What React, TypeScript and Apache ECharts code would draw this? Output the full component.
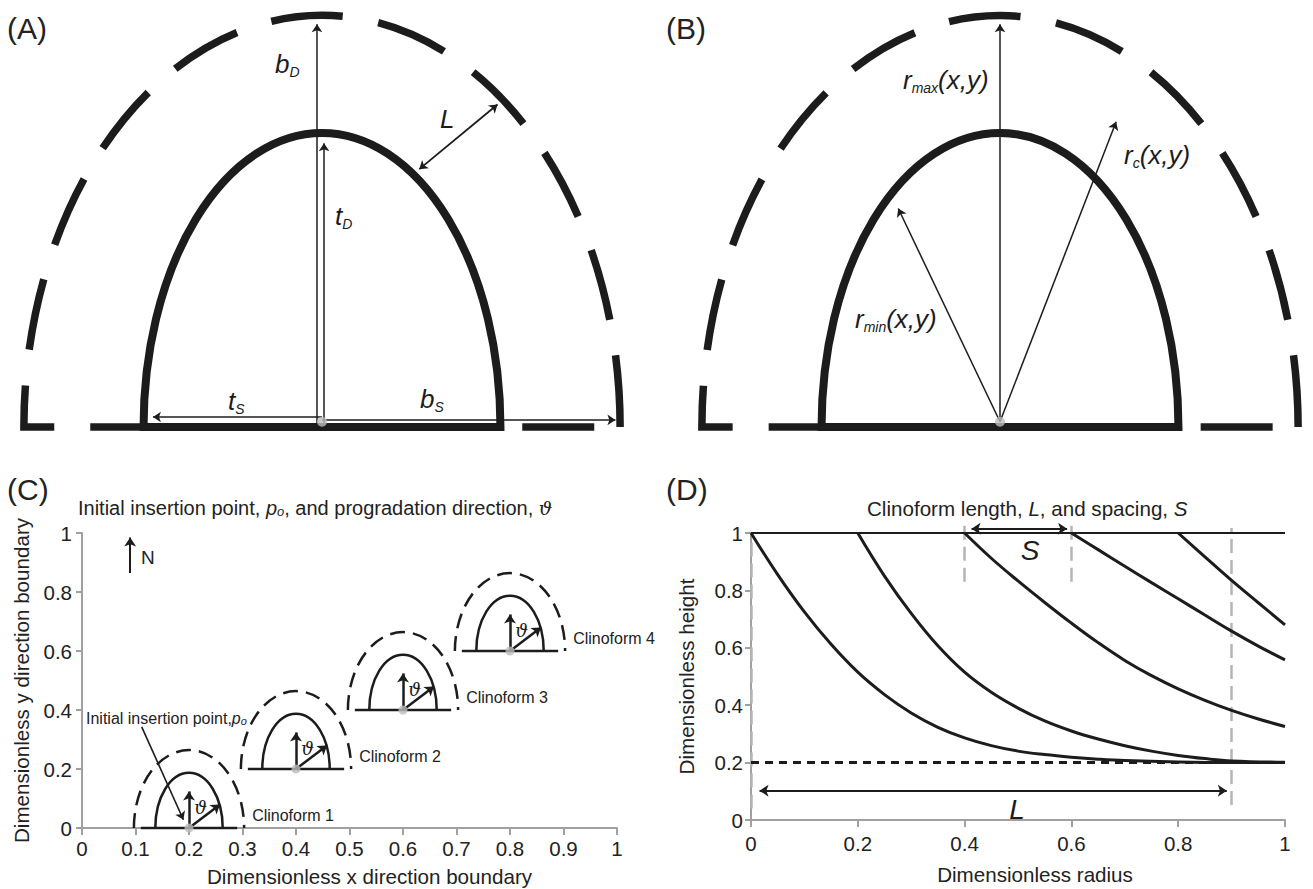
import React, { useEffect, useRef } from "react";
import * as echarts from "echarts";

const FONT = "'Liberation Sans', Arial, Helvetica, sans-serif";
const MATH_FONT = "'DejaVu Serif', serif";
const INK = "#1c1c1c";
const TEXT = "#222222";
const AXIS_GRAY = "#a0a0a0";
const GUIDE_GRAY = "#b5b5b5";
const DOT_GRAY = "#bdbdbd";

// ---------- Panels A and B: clinoform schematic (units of t_D) ----------
const schematicOrigin = [[0, 0]];
const tS = 0.607; // inner half width
const tD = 1.0; // inner height
const bS = 1.014; // outer half width
const bD = 1.4; // outer height
const insertionDotY = 0.018;

// annotation arrows [x1, y1, x2, y2]
const arrowsA = [
  [-0.017, 0, -0.017, 1.37], // b_D
  [0.007, 0, 0.007, 0.965], // t_D
  [0, 0.034, -0.575, 0.034], // t_S
  [0, 0.024, 0.998, 0.024], // b_S
];
const arrowsADouble = [[0.331, 0.877, 0.597, 1.097]]; // L
const arrowsB = [
  [0, 0.018, 0, 1.37], // r_max
  [0, 0.018, -0.346, 0.743], // r_min
  [0, 0.018, 0.395, 1.038], // r_c
];

// ---------- Panel C ----------
const clinoX = [0.2, 0.4, 0.6, 0.8];
const clinoY = [0, 0.2, 0.4, 0.6];
const clinoNames = ["Clinoform 1", "Clinoform 2", "Clinoform 3", "Clinoform 4"];
const cInnerHalf = 0.063;
const cInnerH = 0.187;
const cOuterHalf = 0.103;
const cOuterH = 0.264;
const cBaseHalf = 0.09;
const cNorthLen = 0.124;
const cThetaDx = 0.058;
const cThetaDy = 0.08;
const cLabelDx = 0.118;
const cLabelDy = 0.042;
const cThetaLabelDx = 0.022;
const cThetaLabelDy = 0.068;
const northArrow = [0.09, 0.864, 0.09, 0.985];
const insertionPointer = [0.1116, 0.343, 0.1895, 0.028];

// ---------- Panel D ----------
const curve1X = [0, 0.05, 0.1, 0.15, 0.2, 0.25, 0.3, 0.35, 0.4, 0.45, 0.5, 0.55, 0.6, 0.65, 0.7, 0.8, 0.9, 1];
const curve1Y = [1, 0.855, 0.725, 0.612, 0.515, 0.437, 0.373, 0.323, 0.286, 0.259, 0.24, 0.228, 0.219, 0.212, 0.207, 0.202, 0.2, 0.2];
const curve2X = [0.2, 0.25, 0.3, 0.35, 0.4, 0.45, 0.5, 0.55, 0.6, 0.65, 0.7, 0.75, 0.8, 0.85, 0.9, 1];
const curve2Y = [1, 0.85, 0.72, 0.607, 0.515, 0.445, 0.39, 0.345, 0.31, 0.282, 0.259, 0.24, 0.225, 0.214, 0.206, 0.201];
const curve3X = [0.4, 0.45, 0.5, 0.55, 0.6, 0.65, 0.7, 0.75, 0.8, 0.85, 0.9, 0.95, 1];
const curve3Y = [1, 0.912, 0.833, 0.758, 0.686, 0.618, 0.556, 0.503, 0.457, 0.417, 0.382, 0.352, 0.326];
const curve4X = [0.6, 0.65, 0.7, 0.75, 0.8, 0.85, 0.9, 0.95, 1];
const curve4Y = [1, 0.942, 0.884, 0.827, 0.771, 0.714, 0.658, 0.606, 0.558];
const curve5X = [0.8, 0.85, 0.9, 0.95, 1];
const curve5Y = [1, 0.917, 0.835, 0.757, 0.68];
const plateauY = 1;
const baseY = 0.2;
const guideX = [0, 0.4, 0.6, 0.9];
const guideBottom = [0.04, 0.83, 0.83, 0.052];
const guideTop = [1, 1.05, 1.05, 1.017];
const spacingArrow = [0.413, 1.015, 0.592, 1.015];
const lengthArrow = [0.016, 0.102, 0.891, 0.102];

const zip = (xs: number[], ys: number[]) => xs.map((x, i) => [x, ys[i]]);

function schematicRenderer(params: any, api: any) {
  const x = api.value(0);
  const y = api.value(1);
  const c = api.coord([x, y]);
  const iL = api.coord([x - tS, y]);
  const iR = api.coord([x + tS, y]);
  const iT = api.coord([x, y + tD]);
  const oL = api.coord([x - bS, y]);
  const oR = api.coord([x + bS, y]);
  const oT = api.coord([x, y + bD]);
  const irx = (iR[0] - iL[0]) / 2;
  const iry = c[1] - iT[1];
  const orx = (oR[0] - oL[0]) / 2;
  const ory = c[1] - oT[1];
  return {
    type: "group",
    children: [
      {
        type: "path",
        shape: {
          pathData: `M${oR[0]} ${c[1]} A${orx} ${ory} 0 0 0 ${oL[0]} ${c[1]} L${oR[0]} ${c[1]}`,
        },
        style: { fill: "none", stroke: INK, lineWidth: 7.5, lineDash: [72, 36], lineCap: "butt" },
      },
      {
        type: "path",
        shape: {
          pathData: `M${iL[0]} ${c[1]} A${irx} ${iry} 0 0 1 ${iR[0]} ${c[1]} Z`,
        },
        style: { fill: "none", stroke: INK, lineWidth: 8, lineJoin: "miter" },
      },
    ],
  };
}

function clinoRenderer(params: any, api: any) {
  const i = params.dataIndex;
  const x = api.value(0);
  const y = api.value(1);
  const c = api.coord([x, y]);
  const iL = api.coord([x - cInnerHalf, y]);
  const iR = api.coord([x + cInnerHalf, y]);
  const iT = api.coord([x, y + cInnerH]);
  const oL = api.coord([x - cOuterHalf, y]);
  const oR = api.coord([x + cOuterHalf, y]);
  const oT = api.coord([x, y + cOuterH]);
  const bL = api.coord([x - cBaseHalf, y]);
  const bR = api.coord([x + cBaseHalf, y]);
  const lab = api.coord([x + cLabelDx, y + cLabelDy]);
  const th = api.coord([x + cThetaLabelDx, y + cThetaLabelDy]);
  const irx = (iR[0] - iL[0]) / 2;
  const iry = c[1] - iT[1];
  const orx = (oR[0] - oL[0]) / 2;
  const ory = c[1] - oT[1];
  return {
    type: "group",
    children: [
      {
        type: "path",
        shape: { pathData: `M${oL[0]} ${c[1]} A${orx} ${ory} 0 0 1 ${oR[0]} ${c[1]}` },
        style: { fill: "none", stroke: INK, lineWidth: 2.5, lineDash: [15, 8] },
      },
      {
        type: "path",
        shape: { pathData: `M${iL[0]} ${c[1]} A${irx} ${iry} 0 0 1 ${iR[0]} ${c[1]}` },
        style: { fill: "none", stroke: INK, lineWidth: 2.5 },
      },
      {
        type: "line",
        shape: { x1: bL[0], y1: c[1], x2: bR[0], y2: c[1] },
        style: { stroke: INK, lineWidth: 2.5 },
      },
      {
        type: "text",
        x: lab[0],
        y: lab[1],
        style: { text: clinoNames[i], fontSize: 16, fontFamily: FONT, fill: TEXT, align: "left", verticalAlign: "middle" },
      },
      {
        type: "text",
        x: th[0],
        y: th[1],
        style: { text: "\u03D1", fontSize: 18, fontFamily: MATH_FONT, fontStyle: "italic", fill: INK, align: "center", verticalAlign: "middle" },
      },
    ],
  };
}

function arrowSeries(idx: number, segs: number[][], width: number, size: number, both = false, color = INK) {
  return {
    type: "lines",
    coordinateSystem: "cartesian2d",
    xAxisIndex: idx,
    yAxisIndex: idx,
    symbol: both ? ["arrow", "arrow"] : ["none", "arrow"],
    symbolSize: size,
    lineStyle: { color, width, opacity: 1, curveness: 0 },
    data: segs.map((s) => ({ coords: [[s[0], s[1]], [s[2], s[3]]] })),
    silent: true,
    clip: false,
    z: 3,
  };
}

function mathLabel(x: number, y: number, main: string, sub: string, rest = "") {
  return {
    type: "text",
    x,
    y,
    silent: true,
    style: {
      text: `{m|${main}}{s|${sub}}` + (rest ? `{m|${rest}}` : ""),
      rich: {
        m: { fontSize: 26, fontStyle: "italic", fontFamily: FONT, fill: INK, lineHeight: 30 },
        s: { fontSize: 14, fontStyle: "italic", fontFamily: FONT, fill: INK, lineHeight: 14, verticalAlign: "bottom" },
      },
      align: "left",
      verticalAlign: "middle",
    },
  };
}

function plainText(x: number, y: number, text: string, size: number, extra: any = {}) {
  return {
    type: "text",
    x,
    y,
    silent: true,
    style: { text, fontSize: size, fontFamily: FONT, fill: TEXT, align: "left", verticalAlign: "middle", ...extra },
  };
}

function valueAxis(grid: number, extra: any) {
  return {
    gridIndex: grid,
    type: "value",
    min: 0,
    max: 1,
    axisLine: { show: true, onZero: false, lineStyle: { color: AXIS_GRAY, width: 2 } },
    axisTick: { show: true, inside: false, length: 6, lineStyle: { color: AXIS_GRAY, width: 2 } },
    axisLabel: { show: true, fontSize: 20.5, color: TEXT, fontFamily: FONT, margin: 10 },
    splitLine: { show: false },
    nameLocation: "middle",
    nameMoveOverlap: false,
    nameTextStyle: { fontSize: 20.6, color: TEXT, fontFamily: FONT },
    ...extra,
  };
}

function buildOption() {
  const hiddenX = (g: number) => ({ gridIndex: g, type: "value", min: -1.05, max: 1.05, show: false });
  const hiddenY = (g: number) => ({ gridIndex: g, type: "value", min: 0, max: 1.44, show: false });
  const lineSeries = (data: number[][], extra: any = {}) => ({
    type: "line",
    xAxisIndex: 3,
    yAxisIndex: 3,
    data,
    showSymbol: false,
    symbol: "none",
    smooth: 0.4,
    clip: false,
    silent: true,
    lineStyle: { color: INK, width: 3 },
    z: 2,
    ...extra,
  });

  return {
    animation: false,
    backgroundColor: "#ffffff",
    title: [
      {
        text: "Initial insertion point, {i|p}{s|o}, and progradation direction, {t|\u03D1}",
        left: 78,
        top: 498,
        padding: 0,
        textStyle: {
          fontSize: 20,
          fontWeight: "normal",
          color: TEXT,
          fontFamily: FONT,
          rich: {
            i: { fontSize: 20, fontStyle: "italic", fontFamily: FONT, color: TEXT },
            s: { fontSize: 13, fontStyle: "italic", fontFamily: FONT, color: TEXT, verticalAlign: "bottom" },
            t: { fontSize: 19, fontStyle: "italic", fontFamily: MATH_FONT, color: TEXT },
          },
        },
      },
      {
        text: "Clinoform length, {i|L}, and spacing, {i|S}",
        left: 867,
        top: 498,
        padding: 0,
        textStyle: {
          fontSize: 20.6,
          fontWeight: "normal",
          color: TEXT,
          fontFamily: FONT,
          rich: { i: { fontSize: 20.6, fontStyle: "italic", fontFamily: FONT, color: TEXT } },
        },
      },
    ],
    grid: [
      { left: 13.3, top: 3.6, width: 617.4, height: 423.4, outerBoundsMode: "none", containLabel: false },
      { left: 691.3, top: 3.6, width: 617.4, height: 423.4, outerBoundsMode: "none", containLabel: false },
      { left: 82, top: 533, width: 535, height: 295, outerBoundsMode: "none", containLabel: false },
      { left: 751, top: 533, width: 534, height: 287, outerBoundsMode: "none", containLabel: false },
    ],
    xAxis: [
      hiddenX(0),
      hiddenX(1),
      valueAxis(2, {
        interval: 0.1,
        axisTick: { show: true, length: 7, lineStyle: { color: AXIS_GRAY, width: 2 } },
        axisLabel: { show: true, fontSize: 20.5, color: TEXT, fontFamily: FONT, margin: 10 },
        name: "Dimensionless x direction boundary",
        nameGap: 38,
        nameTextStyle: { fontSize: 20.6, color: TEXT, fontFamily: FONT, padding: [0, 0, 0, 40] },
      }),
      valueAxis(3, {
        interval: 0.2,
        axisTick: { show: true, length: 7, lineStyle: { color: AXIS_GRAY, width: 2 } },
        axisLabel: { show: true, fontSize: 20.5, color: TEXT, fontFamily: FONT, margin: 13 },
        name: "Dimensionless radius",
        nameGap: 44,
        nameTextStyle: { fontSize: 20.6, color: TEXT, fontFamily: FONT, padding: [0, 0, 0, 34] },
      }),
    ],
    yAxis: [
      hiddenY(0),
      hiddenY(1),
      valueAxis(2, { interval: 0.2, name: "Dimensionless y direction boundary", nameGap: 50 }),
      valueAxis(3, {
        interval: 0.2,
        axisLabel: { show: true, fontSize: 20.5, color: TEXT, fontFamily: FONT, margin: 8 },
        name: "Dimensionless height",
        nameGap: 54,
      }),
    ],
    series: [
      // Panel A
      { type: "custom", xAxisIndex: 0, yAxisIndex: 0, data: schematicOrigin, renderItem: schematicRenderer, clip: false, silent: true, z: 2 },
      arrowSeries(0, arrowsA, 1.5, 8),
      arrowSeries(0, arrowsADouble, 1.8, 8, true),
      { type: "scatter", xAxisIndex: 0, yAxisIndex: 0, data: [[0, insertionDotY]], symbolSize: 10, itemStyle: { color: DOT_GRAY }, silent: true, z: 4 },
      // Panel B
      { type: "custom", xAxisIndex: 1, yAxisIndex: 1, data: schematicOrigin, renderItem: schematicRenderer, clip: false, silent: true, z: 2 },
      arrowSeries(1, arrowsB, 1.5, 8),
      { type: "scatter", xAxisIndex: 1, yAxisIndex: 1, data: [[0, insertionDotY]], symbolSize: 10, itemStyle: { color: DOT_GRAY }, silent: true, z: 4 },
      // Panel C
      { type: "custom", xAxisIndex: 2, yAxisIndex: 2, data: zip(clinoX, clinoY), renderItem: clinoRenderer, clip: false, silent: true, z: 2 },
      arrowSeries(2, clinoX.map((x, i) => [x, clinoY[i], x, clinoY[i] + cNorthLen]), 2.5, 9),
      arrowSeries(2, clinoX.map((x, i) => [x, clinoY[i], x + cThetaDx, clinoY[i] + cThetaDy]), 2.5, 9),
      arrowSeries(2, [northArrow], 2, 9),
      arrowSeries(2, [insertionPointer], 1.6, 8),
      { type: "scatter", xAxisIndex: 2, yAxisIndex: 2, data: zip(clinoX, clinoY), symbolSize: 9, itemStyle: { color: DOT_GRAY }, silent: true, z: 4 },
      // Panel D
      {
        type: "lines",
        coordinateSystem: "cartesian2d",
        xAxisIndex: 3,
        yAxisIndex: 3,
        data: guideX.map((x, i) => ({ coords: [[x, guideBottom[i]], [x, guideTop[i]]] })),
        lineStyle: { color: GUIDE_GRAY, width: 2.5, type: [14, 7], opacity: 1 },
        symbol: ["none", "none"],
        silent: true,
        clip: false,
        z: 1,
      },
      lineSeries([[0, plateauY], [1, plateauY]], { smooth: false, lineStyle: { color: INK, width: 2 } }),
      lineSeries([[0, baseY], [1, baseY]], { smooth: false, lineStyle: { color: INK, width: 3, type: [8, 6] } }),
      lineSeries(zip(curve1X, curve1Y)),
      lineSeries(zip(curve2X, curve2Y)),
      lineSeries(zip(curve3X, curve3Y)),
      lineSeries(zip(curve4X, curve4Y)),
      lineSeries(zip(curve5X, curve5Y)),
      arrowSeries(3, [spacingArrow], 2, 9, true),
      arrowSeries(3, [lengthArrow], 2, 9, true),
    ],
    graphic: [
      plainText(7, 28, "(A)", 30),
      plainText(666, 28, "(B)", 30),
      plainText(7, 489, "(C)", 30),
      plainText(666, 489, "(D)", 30),
      mathLabel(275, 64, "b", "D"),
      mathLabel(335, 216, "t", "D"),
      mathLabel(440, 119, "L", ""),
      mathLabel(228, 401, "t", "S"),
      mathLabel(420, 399, "b", "S"),
      mathLabel(903, 80, "r", "max", "(x,y)"),
      mathLabel(1124, 155, "r", "c", "(x,y)"),
      mathLabel(855, 319, "r", "min", "(x,y)"),
      plainText(141, 557, "N", 19),
      {
        type: "text",
        x: 86,
        y: 718,
        silent: true,
        style: {
          text: "Initial insertion point,{i|p}{s|o}",
          fontSize: 16,
          fontFamily: FONT,
          fill: TEXT,
          align: "left",
          verticalAlign: "middle",
          rich: {
            i: { fontSize: 16, fontStyle: "italic", fontFamily: FONT, fill: TEXT },
            s: { fontSize: 11, fontStyle: "italic", fontFamily: FONT, fill: TEXT, verticalAlign: "bottom" },
          },
        },
      },
      plainText(1030, 550, "S", 28, { fontStyle: "italic", align: "center", fill: INK }),
      plainText(1017, 809, "L", 28, { fontStyle: "italic", align: "center", fill: INK }),
    ],
  };
}

export default function App() {
  const ref = useRef<HTMLDivElement>(null);
  useEffect(() => {
    if (!ref.current) return;
    const chart = echarts.init(ref.current, null, { renderer: "svg" });
    chart.setOption(buildOption() as any);
    return () => chart.dispose();
  }, []);
  return (
    <div
      ref={ref}
      style={{ position: "fixed", left: 0, top: 0, width: 1313, height: 889, background: "#ffffff" }}
    />
  );
}
